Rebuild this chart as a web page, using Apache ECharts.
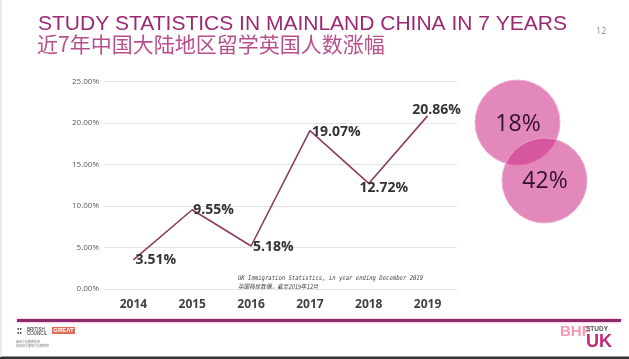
<!DOCTYPE html>
<html>
<head>
<meta charset="utf-8">
<script src="https://cdn.jsdelivr.net/npm/echarts@6/dist/echarts.min.js"></script>
<style>
html,body{margin:0;padding:0;background:#fff;}
#chart{width:629px;height:359px;}
</style>
</head>
<body>
<div id="chart"></div>
<script>
var years = ['2014', '2015', '2016', '2017', '2018', '2019'];
var growth = [3.51, 9.55, 5.18, 19.07, 12.72, 20.86];
var yTicks = [0, 5, 10, 15, 20, 25];
var bubbleValues = ['18%', '42%'];
var titleEn = 'STUDY STATISTICS IN MAINLAND CHINA IN 7 YEARS';
var titleCn = '近7年中国大陆地区留学英国人数涨幅';
var pageNo = '12';
var sourceLines = ['UK Immigration Statistics, in year ending December 2019', '英国移民数据，截至2019年12月'];

// label placement per point (style only)
var labelPlacement = [
  {position: 'right', offset: [0, 0]},
  {position: 'right', offset: [-1, 0]},
  {position: 'right', offset: [0, 1]},
  {position: 'right', offset: [0, 1]},
  {position: 'bottom', offset: [15, -4]},
  {position: 'top', offset: [9, 3]}
];

var chart = echarts.init(document.getElementById('chart'), null, {renderer: 'canvas'});

var seriesData = growth.map(function (v, i) {
  return {
    value: v,
    label: {position: labelPlacement[i].position, offset: labelPlacement[i].offset, distance: 2}
  };
});

var option = {
  backgroundColor: '#ffffff',
  animation: false,
  grid: {left: 104, right: 172, top: 81.5, bottom: 70},
  xAxis: {
    type: 'category',
    data: years,
    boundaryGap: true,
    axisLine: {show: false},
    axisTick: {show: false},
    axisLabel: {color: '#404040', fontSize: 12, fontWeight: 'bold', fontFamily: 'Open Sans', margin: 10}
  },
  yAxis: {
    type: 'value',
    min: yTicks[0],
    max: yTicks[yTicks.length - 1],
    interval: yTicks[1] - yTicks[0],
    axisLine: {show: false},
    axisTick: {show: false},
    splitLine: {lineStyle: {color: '#e3e3e3', width: 1}},
    axisLabel: {
      color: '#595959', fontSize: 8, fontFamily: 'Open Sans', margin: 5,
      formatter: function (v) { return v.toFixed(2) + '%'; }
    }
  },
  series: [{
    type: 'line',
    data: seriesData,
    symbol: 'circle',
    symbolSize: 0,
    itemStyle: {color: '#8b3d5e'},
    lineStyle: {color: '#8b3d5e', width: 1.6},
    label: {
      show: true,
      color: '#333333',
      fontSize: 14,
      fontWeight: 'bold',
      fontFamily: 'Open Sans',
      formatter: function (p) { return p.value.toFixed(2) + '%'; }
    }
  }],
  graphic: [
    {type: 'text', left: 38, top: 14, style: {text: titleEn, fill: '#9c2a72', font: '21px "Liberation Sans"'}},
    {type: 'text', left: 37, top: 34, style: {text: titleCn, fill: '#b8508e', font: '21px "Noto Sans CJK SC"'}},
    {type: 'text', left: 596, top: 27, style: {text: pageNo, fill: '#8a8a8a', font: '9px "Open Sans"'}},
    {type: 'text', x: 238, y: 275, scaleX: 0.86, style: {text: sourceLines[0], fill: '#444', font: 'italic 6.5px "DejaVu Sans Mono"'}},
    {type: 'text', x: 238, y: 283, scaleX: 0.86, style: {text: sourceLines[1], fill: '#444', font: 'italic 6.5px "Noto Sans CJK SC"'}},
    // bubbles
    {type: 'circle', shape: {cx: 517.5, cy: 122.5, r: 42.5}, style: {fill: 'rgba(207,53,139,0.59)', stroke: 'rgba(240,170,210,0.8)', lineWidth: 1}},
    {type: 'circle', shape: {cx: 544.5, cy: 180.5, r: 42.5}, style: {fill: 'rgba(207,53,139,0.59)', stroke: 'rgba(240,170,210,0.8)', lineWidth: 1}},
    {type: 'text', x: 518, y: 124, style: {text: bubbleValues[0], fill: '#33102a', font: '23px "Open Sans"', align: 'center', verticalAlign: 'middle'}},
    {type: 'text', x: 545, y: 181, style: {text: bubbleValues[1], fill: '#33102a', font: '23px "Open Sans"', align: 'center', verticalAlign: 'middle'}},
    // footer
    {type: 'rect', shape: {x: 17, y: 319, width: 604, height: 3}, style: {fill: '#8c2a6b', shadowColor: 'rgba(240,120,190,0.8)', shadowBlur: 3}},
    {type: 'text', left: 17, top: 327, style: {text: '●●\n●●', fill: '#222', font: '4px sans-serif', lineHeight: 4}},
    {type: 'text', left: 27, top: 327, style: {text: 'BRITISH\nCOUNCIL', fill: '#222', font: '4.5px "Liberation Sans"', lineHeight: 4.5}},
    {type: 'rect', shape: {x: 52, y: 327, width: 23, height: 7}, style: {fill: '#e06a5a'}},
    {type: 'text', x: 63.5, y: 330.5, style: {text: 'GREAT', fill: '#fff', font: 'bold 6px "Liberation Sans"', align: 'center', verticalAlign: 'middle'}},
    {type: 'text', left: 16, top: 340, style: {text: '英国文化教育协会\n英国驻华使馆文化教育处', fill: '#777', font: '3px "Noto Sans CJK SC"', lineHeight: 4}},
    {type: 'text', left: 560, top: 324, style: {text: 'BHF', fill: 'rgba(240,120,150,0.75)', font: 'bold 15px "Liberation Sans"'}},
    {type: 'text', left: 586, top: 326, style: {text: 'STUDY', fill: '#555', font: 'bold 6.5px "Liberation Sans"'}},
    {type: 'text', left: 586, top: 333, style: {text: 'UK', fill: '#c2287a', font: 'bold 18px "Liberation Sans"'}},
    {type: 'rect', shape: {x: 0, y: 356.5, width: 629, height: 3}, style: {fill: '#333'}},
    {type: 'rect', shape: {x: 0, y: 0, width: 1.5, height: 357}, style: {fill: '#e6e6e6'}}
  ]
};
chart.setOption(option);
</script>
</body>
</html>
